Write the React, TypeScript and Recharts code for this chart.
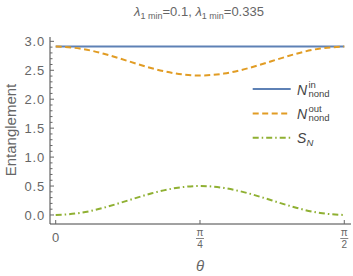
import { LineChart, Line, XAxis, YAxis } from 'recharts'

// sampled at theta = k * pi/24, k = 0..12
const thetaSteps = [0, 1, 2, 3, 4, 5, 6, 7, 8, 9, 10, 11, 12]
const nIn = [2.91, 2.91, 2.91, 2.91, 2.91, 2.91, 2.91, 2.91, 2.91, 2.91, 2.91, 2.91, 2.91]
const nOut = [2.91, 2.876, 2.785, 2.66, 2.535, 2.444, 2.41, 2.444, 2.535, 2.66, 2.785, 2.876, 2.91]
const sN = [0, 0.034, 0.125, 0.25, 0.375, 0.466, 0.5, 0.466, 0.375, 0.25, 0.125, 0.034, 0]

const xTicks = [0, Math.PI / 4, Math.PI / 2]
const yMajor = [0, 0.5, 1, 1.5, 2, 2.5, 3]
const yTicks = Array.from({ length: 31 }, (_, i) => Math.round(i) / 10)

const series = [
  { key: 'nIn', color: '#5e81b5', dash: undefined, sup: 'in', sub: 'nond', base: 'N' },
  { key: 'nOut', color: '#e19c24', dash: '6 3.5', sup: 'out', sub: 'nond', base: 'N' },
  { key: 'sN', color: '#8fb032', dash: '6 3 1.5 3', sup: '', sub: 'N', base: 'S' },
]

const data = thetaSteps.map((k, i) => ({
  theta: (k * Math.PI) / 24,
  nIn: nIn[i],
  nOut: nOut[i],
  sN: sN[i],
}))

const FONT = '"Liberation Sans", Arial, sans-serif'
const FRAME = '#444'
const TICK = '#666'
const TEXT = '#666'

const isMajor = (v: number) => yMajor.some(m => Math.abs(m - v) < 1e-6)

function LeftTick(props: any) {
  const { x, y, payload } = props
  const major = isMajor(payload.value)
  return (
    <g>
      <line x1={x} x2={x + (major ? 4 : 2.5)} y1={y} y2={y} stroke={TICK} />
      {major && (
        <text x={x - 5} y={y} dy="0.36em" textAnchor="end" fontSize={13} letterSpacing={0.8} fill={TEXT} fontFamily={FONT}>
          {payload.value.toFixed(1)}
        </text>
      )}
    </g>
  )
}

function RightTick(props: any) {
  const { x, y, payload } = props
  const major = isMajor(payload.value)
  return <line x1={x} x2={x - (major ? 4 : 2.5)} y1={y} y2={y} stroke={TICK} />
}

function BottomTick(props: any) {
  const { x, y, payload } = props
  const i = xTicks.findIndex(t => Math.abs(t - payload.value) < 1e-6)
  return (
    <g>
      <line x1={x} x2={x} y1={y} y2={y - 4} stroke={TICK} />
      {i === 0 ? (
        <text x={x} y={y + 17.5} textAnchor="middle" fontSize={13} fill={TEXT} fontFamily={FONT}>0</text>
      ) : (
        <g fontSize={10} fill={TEXT} fontFamily={FONT}>
          <text x={x} y={y + 12} textAnchor="middle">π</text>
          <line x1={x - 4} x2={x + 4} y1={y + 14.5} y2={y + 14.5} stroke={TEXT} strokeWidth={0.8} />
          <text x={x} y={y + 24} textAnchor="middle">{i === 1 ? '4' : '2'}</text>
        </g>
      )}
    </g>
  )
}

function TopTick(props: any) {
  const { x, y } = props
  return <line x1={x} x2={x} y1={y} y2={y + 4} stroke={TICK} />
}

export default function App() {
  return (
    <div style={{ position: 'absolute', left: 0, top: 0, width: 353, height: 276, background: '#fff' }}>
      <LineChart width={353} height={276} data={data} margin={{ top: 37, right: 2, left: 0, bottom: 0 }}>
        <XAxis
          dataKey="theta"
          type="number"
          domain={[-0.031, 1.6073]}
          ticks={xTicks}
          interval={0}
          height={52}
          tickSize={0}
          tickMargin={0}
          tickLine={false}
          axisLine={{ stroke: FRAME }}
          tick={<BottomTick />}
          allowDataOverflow
        />
        <XAxis
          xAxisId="top"
          dataKey="theta"
          type="number"
          orientation="top"
          domain={[-0.031, 1.6073]}
          ticks={xTicks}
          interval={0}
          height={0}
          tickSize={0}
          tickMargin={0}
          tickLine={false}
          axisLine={{ stroke: FRAME }}
          tick={<TopTick />}
          allowDataOverflow
        />
        <YAxis
          type="number"
          domain={[-0.156, 3.075]}
          ticks={yTicks}
          interval={0}
          width={50}
          tickSize={0}
          tickMargin={0}
          tickLine={false}
          axisLine={{ stroke: FRAME }}
          tick={<LeftTick />}
          allowDataOverflow
        />
        <YAxis
          yAxisId="right"
          orientation="right"
          type="number"
          domain={[-0.156, 3.075]}
          ticks={yTicks}
          interval={0}
          width={0}
          tickSize={0}
          tickMargin={0}
          tickLine={false}
          axisLine={{ stroke: FRAME }}
          tick={<RightTick />}
          allowDataOverflow
        />
        {series.map(s => (
          <Line
            key={s.key}
            dataKey={s.key}
            type="natural"
            stroke={s.color}
            strokeWidth={2}
            strokeDasharray={s.dash}
            dot={false}
            activeDot={false}
            isAnimationActive={false}
          />
        ))}
      </LineChart>
      <svg width={353} height={276} style={{ position: 'absolute', left: 0, top: 0, pointerEvents: 'none' }} fontFamily={FONT}>
        <text x={199} y={16} textAnchor="middle" fontSize={13} fill={TEXT}>
          <tspan fontStyle="italic">λ</tspan>
          <tspan fontSize={9} dy={3}>1 min</tspan>
          <tspan dy={-3}>=0.1, </tspan>
          <tspan fontStyle="italic">λ</tspan>
          <tspan fontSize={9} dy={3}>1 min</tspan>
          <tspan dy={-3}>=0.335</tspan>
        </text>
        <text x={16} y={130} transform="rotate(-90 16 130)" textAnchor="middle" fontSize={15} fill={TEXT}>
          Entanglement
        </text>
        <text x={200} y={271} textAnchor="middle" fontSize={15} fontStyle="italic" fill={TEXT}>θ</text>
        {series.map((s, i) => {
          const y = 89 + i * 24.4
          return (
            <g key={s.key}>
              <line x1={252.7} x2={290.7} y1={y} y2={y} stroke={s.color} strokeWidth={2} strokeDasharray={s.dash} />
              <text x={297} y={y + 5.5} fontSize={14} fill="#444">
                <tspan fontStyle="italic">{s.base}</tspan>
                {s.sup ? (
                  <>
                    <tspan x={308.5} y={y - 1.5} fontSize={9.5}>{s.sup}</tspan>
                    <tspan x={308.5} y={y + 8} fontSize={9.5}>{s.sub}</tspan>
                  </>
                ) : (
                  <tspan x={306.5} y={y + 8} fontSize={9.5} fontStyle="italic">{s.sub}</tspan>
                )}
              </text>
            </g>
          )
        })}
      </svg>
    </div>
  )
}
